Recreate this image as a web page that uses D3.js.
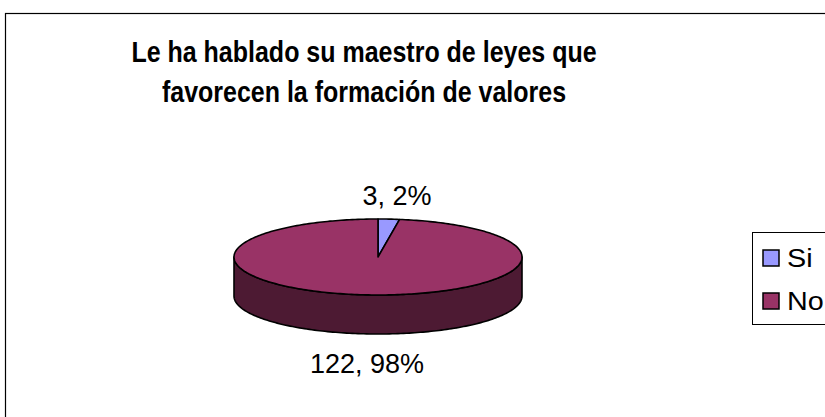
<!DOCTYPE html>
<html lang="es">
<head>
  <meta charset="UTF-8">
  <title>Leyes y valores</title>
  <style>
    body { margin: 0; background: #fff; }
    text { font-family: "Liberation Sans", Arial, sans-serif; }
  </style>
</head>
<body>
  <script src="https://cdn.jsdelivr.net/npm/d3@7/dist/d3.min.js"></script>
  <script>
// datos
const categories = ['Si', 'No'];
const values = [3, 122];
const percents = ['2%', '98%'];
const titleLines = ['Le ha hablado su maestro de leyes que', 'favorecen la formación de valores'];

const topColors = ['#9999FF', '#993366'];
const sideColors = ['#5c5c99', '#4d1a33'];

const width = 825;
const height = 417;

const svg = d3.select('body')
  .append('svg')
  .attr('width', width)
  .attr('height', height);

// marco del gráfico (sale por la derecha y abajo)
svg.append('rect')
  .attr('x', 5.5).attr('y', 13.5)
  .attr('width', 900).attr('height', 500)
  .attr('fill', 'none')
  .attr('stroke', '#000')
  .attr('stroke-width', 1.2);

// título (la imagen original está algo estirada en vertical)
svg.append('g')
  .selectAll('text')
  .data(titleLines)
  .join('text')
  .attr('transform', (d, i) => `translate(364, ${62 + i * 40}) scale(1, 1.18)`)
  .attr('text-anchor', 'middle')
  .attr('font-size', 25)
  .attr('font-weight', 'bold')
  .text(d => d);

// pastel 3D
const cx = 378, cy = 257, rx = 144, ry = 38, depth = 39;

const pie = d3.pie().sort(null).value(d => d);
const arcs = pie(values);

// ángulo (desde las 12 en sentido horario) -> punto en la elipse
const px = d3.scaleLinear().domain([-1, 1]).range([cx - rx, cx + rx]);
const py = d3.scaleLinear().domain([-1, 1]).range([cy - ry, cy + ry]);
const pt = (a, dy = 0) => [px(Math.sin(a)), py(-Math.cos(a)) + dy];

function arcPoints(a0, a1, dy = 0) {
  const n = Math.max(2, Math.ceil((a1 - a0) / 0.02));
  return d3.range(n + 1).map(k => pt(a0 + (a1 - a0) * k / n, dy));
}

const line = d3.line();
const pieG = svg.append('g');

// lados visibles (mitad delantera)
arcs.forEach((d, i) => {
  const a0 = Math.max(d.startAngle, Math.PI / 2);
  const a1 = Math.min(d.endAngle, Math.PI * 3 / 2);
  if (a1 <= a0) return;
  const pts = arcPoints(a0, a1).concat(arcPoints(a0, a1, depth).reverse());
  pieG.append('path')
    .attr('d', line(pts) + 'Z')
    .attr('fill', sideColors[i])
    .attr('stroke', '#000')
    .attr('stroke-width', 1.6)
    .attr('stroke-linejoin', 'round');
});

// tapas
arcs.forEach((d, i) => {
  const pts = [[cx, cy]].concat(arcPoints(d.startAngle, d.endAngle));
  pieG.append('path')
    .attr('d', line(pts) + 'Z')
    .attr('fill', topColors[i])
    .attr('stroke', '#000')
    .attr('stroke-width', 1.6)
    .attr('stroke-linejoin', 'round');
});

// etiquetas de datos
const labelPos = [[397, 205], [367, 373]];
svg.append('g')
  .selectAll('text')
  .data(values)
  .join('text')
  .attr('x', (d, i) => labelPos[i][0])
  .attr('y', (d, i) => labelPos[i][1])
  .attr('text-anchor', 'middle')
  .attr('font-size', 27)
  .text((d, i) => `${d}, ${percents[i]}`);

// leyenda
const legend = svg.append('g');
legend.append('rect')
  .attr('x', 752.5).attr('y', 232.5)
  .attr('width', 100).attr('height', 92)
  .attr('fill', '#fff')
  .attr('stroke', '#000')
  .attr('stroke-width', 1);

const item = legend.selectAll('g')
  .data(categories)
  .join('g')
  .attr('transform', (d, i) => `translate(763, ${250 + i * 43})`);

item.append('rect')
  .attr('width', 16).attr('height', 16)
  .attr('fill', (d, i) => topColors[i])
  .attr('stroke', '#000')
  .attr('stroke-width', 1.5);

item.append('text')
  .attr('transform', 'translate(24, 17) scale(1.15, 1)')
  .attr('font-size', 25)
  .text(d => d);
  </script>
</body>
</html>
